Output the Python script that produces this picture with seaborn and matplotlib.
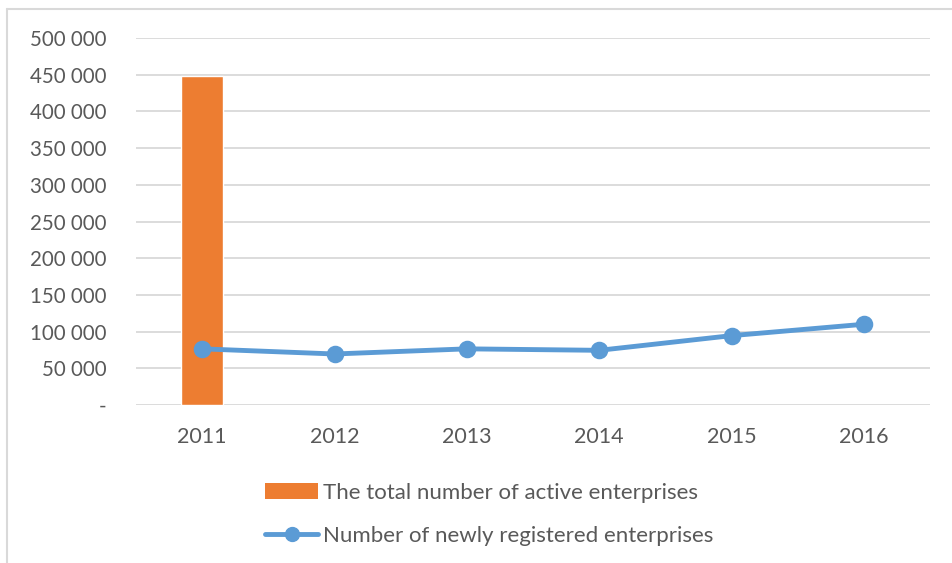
import numpy as np
import pandas as pd
import matplotlib
matplotlib.use("Agg")
import matplotlib.pyplot as plt
import seaborn as sns
from matplotlib.lines import Line2D
from matplotlib.patches import Patch
from matplotlib.ticker import FuncFormatter, MultipleLocator

years = ["2011", "2012", "2013", "2014", "2015", "2016"]
active = [448000, np.nan, np.nan, np.nan, np.nan, np.nan]
newly = [76500, 69500, 76500, 74500, 94500, 110000]

bar_label = "The total number of active enterprises"
line_label = "Number of newly registered enterprises"

ORANGE = "#ED7D31"
BLUE = "#5B9BD5"
GREY = "#595959"

sns.set_theme(style="white")
plt.rcParams["font.family"] = ["Lato", "DejaVu Sans"]

df = pd.DataFrame({"year": years, "active": active, "newly": newly})

fig = plt.figure(figsize=(9.52, 5.63), dpi=100)
ax = fig.add_axes([136 / 952, 1 - 405 / 563, (930 - 136) / 952, (405 - 38) / 563])

sns.barplot(data=df, x="year", y="active", color=ORANGE, width=0.317,
            saturation=1, ax=ax, zorder=2)
sns.pointplot(data=df, x="year", y="newly", color=BLUE, markers="o",
              markersize=10, linewidth=3.5, ax=ax, zorder=3)

ax.set_ylim(0, 500000)
ax.yaxis.set_major_locator(MultipleLocator(50000))
ax.yaxis.set_major_formatter(FuncFormatter(
    lambda v, p: "-" if v == 0 else f"{int(v):,}".replace(",", " ")))
ax.grid(axis="y", color="#D9D9D9", linewidth=1.3, zorder=0)
ax.set_axisbelow(True)
for s in ax.spines.values():
    s.set_visible(False)
ax.set_xlabel("")
ax.set_ylabel("")
ax.tick_params(axis="both", length=0, labelsize=14.8, colors=GREY)
ax.tick_params(axis="x", labelsize=15.5, pad=16)
ax.tick_params(axis="y", pad=21)

handles = [
    Patch(facecolor=ORANGE, edgecolor="none"),
    Line2D([0], [0], color=BLUE, linewidth=3.5, marker="o", markersize=10,
           solid_capstyle="round"),
]
leg = fig.legend(handles, [bar_label, line_label], loc="upper left",
                 bbox_to_anchor=(256 / 952, 1 - 474 / 563), frameon=False,
                 fontsize=16.0, handlelength=2.4, handletextpad=0.2,
                 labelspacing=1.05, borderaxespad=0)
for t in leg.get_texts():
    t.set_color(GREY)

# outer chart frame (top and left edges visible in the crop)
fig.add_artist(Line2D([7 / 952, 7 / 952], [0, 1 - 9 / 563],
                      transform=fig.transFigure, color="#D9D9D9", linewidth=1.5))
fig.add_artist(Line2D([7 / 952, 1], [1 - 9 / 563, 1 - 9 / 563],
                      transform=fig.transFigure, color="#D9D9D9", linewidth=1.5))

fig.savefig("out.png", dpi=100, facecolor="white")
